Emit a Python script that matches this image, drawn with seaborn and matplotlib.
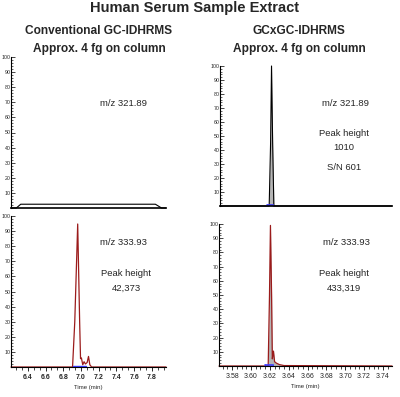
import numpy as np
import pandas as pd
import matplotlib
matplotlib.use("Agg")
import matplotlib.pyplot as plt
from matplotlib.ticker import MultipleLocator, AutoMinorLocator
import seaborn as sns

sns.set_style("white")
plt.rcParams['font.family'] = ['Liberation Sans', 'DejaVu Sans']

# ---------------- data ----------------
# Conventional GC, m/z 321.89 (flat trace)
conv_321_t = [6.21, 6.27, 6.32, 7.84, 7.91, 7.96]
conv_321_y = [0.0, 0.0, 2.5, 2.5, 0.0, 0.0]
# Conventional GC, m/z 333.93
conv_333_t = [6.21, 6.905, 6.93, 6.963, 6.985, 6.995, 7.005, 7.02, 7.035, 7.05, 7.07, 7.085, 7.10, 7.12, 7.96]
conv_333_y = [0.0, 0.0, 30.0, 94.7, 30.0, 5.5, 6.0, 1.5, 3.5, 2.0, 3.0, 7.0, 1.5, 0.0, 0.0]
conv_333_base = [6.905, 7.06]
# GCxGC, m/z 321.89
gcxgc_321_t = [3.566, 3.6185, 3.6200, 3.6210, 3.6222, 3.6235, 3.7496]
gcxgc_321_y = [0.0, 0.0, 45.0, 100.0, 45.0, 0.0, 0.0]
gcxgc_321_base = [3.6165, 3.6230]
# GCxGC, m/z 333.93
gcxgc_333_t = [3.566, 3.6182, 3.6196, 3.6206, 3.6218, 3.6226, 3.6238, 3.6250, 3.6270, 3.6300, 3.6350, 3.7496]
gcxgc_333_y = [0.0, 0.0, 50.0, 99.0, 50.0, 5.0, 10.5, 3.0, 2.0, 1.0, 0.3, 0.0]
gcxgc_333_base = [3.6150, 3.6230]

yticks = [10, 20, 30, 40, 50, 60, 70, 80, 90, 100]
conv_xticks = [6.4, 6.6, 6.8, 7.0, 7.2, 7.4, 7.6, 7.8]
gcxgc_xticks = [3.58, 3.60, 3.62, 3.64, 3.66, 3.68, 3.70, 3.72, 3.74]

W, H = 400, 397
fig = plt.figure(figsize=(W / 100, H / 100), dpi=100)

def rect(l, t, r, b):
    return [l / W, 1 - b / H, (r - l) / W, (b - t) / H]

ax_tl = fig.add_axes(rect(11, 57, 166, 208))
ax_bl = fig.add_axes(rect(11, 216, 166, 367))
ax_tr = fig.add_axes(rect(220, 66, 392, 206))
ax_br = fig.add_axes(rect(219, 224, 392, 366))

RED = "#9b1b1b"
BLUE = "#3a3aff"
GRAY = "#b5b5b5"

def style(ax, xlim, show_x, xticks=None, xminor=3):
    ax.set_xlim(*xlim)
    ax.set_ylim(0, 100)
    for s in ["top", "right"]:
        ax.spines[s].set_visible(False)
    ax.spines["left"].set_linewidth(0.8)
    ax.spines["bottom"].set_linewidth(1.2 if not show_x else 0.8)
    ax.spines["left"].set_color("black")
    ax.spines["bottom"].set_color("black")
    ax.set_yticks(yticks)
    ax.set_yticklabels([str(v) for v in yticks])
    ax.yaxis.set_minor_locator(MultipleLocator(2))
    ax.tick_params(axis="y", which="major", direction="in", length=3, width=0.6,
                   labelsize=3.8, pad=0.3, left=True)
    ax.tick_params(axis="y", which="minor", direction="in", length=1.5, width=0.5, left=True)
    if show_x:
        ax.set_xticks(xticks)
        ax.xaxis.set_minor_locator(AutoMinorLocator(xminor))
        ax.tick_params(axis="x", which="major", direction="out", length=3, width=0.7,
                       labelsize=5, pad=2, bottom=True)
        ax.tick_params(axis="x", which="minor", direction="out", length=2, width=0.6, bottom=True)
        for lab in ax.get_xticklabels():
            lab.set_fontweight("bold")
        ax.set_xlabel("Time (min)", fontsize=4.3, labelpad=3)
    else:
        ax.set_xticks([])
        ax.set_xlabel("")
    ax.set_ylabel("")
    ax.grid(False)

# Top-left
df = pd.DataFrame({"t": conv_321_t, "y": conv_321_y})
sns.lineplot(data=df, x="t", y="y", ax=ax_tl, color="black", lw=0.8, legend=False)
style(ax_tl, (6.21, 7.96), False)

# Bottom-left
df = pd.DataFrame({"t": conv_333_t, "y": conv_333_y})
sns.lineplot(data=df, x="t", y="y", ax=ax_bl, color=RED, lw=0.9, legend=False)
ax_bl.plot(conv_333_base, [0.4, 0.4], color=BLUE, lw=1.0)
style(ax_bl, (6.21, 7.96), True, conv_xticks, 3)

# Top-right
df = pd.DataFrame({"t": gcxgc_321_t, "y": gcxgc_321_y})
ax_tr.fill_between(gcxgc_321_t, gcxgc_321_y, color=GRAY, lw=0)
sns.lineplot(data=df, x="t", y="y", ax=ax_tr, color="black", lw=0.8, legend=False)
ax_tr.plot(gcxgc_321_base, [0.6, 0.6], color=BLUE, lw=1.2, marker="|", ms=2, mew=0.6)
style(ax_tr, (3.566, 3.7496), False)

# Bottom-right
df = pd.DataFrame({"t": gcxgc_333_t, "y": gcxgc_333_y})
ax_br.fill_between(gcxgc_333_t, gcxgc_333_y, color=GRAY, lw=0)
sns.lineplot(data=df, x="t", y="y", ax=ax_br, color=RED, lw=0.9, legend=False)
ax_br.plot(gcxgc_333_base, [0.6, 0.6], color=BLUE, lw=1.2, marker="|", ms=2, mew=0.6)
style(ax_br, (3.566, 3.7496), True, gcxgc_xticks, 4)
for lab in ax_br.get_xticklabels():
    lab.set_fontweight("normal")
    lab.set_fontsize(5)

for ax in (ax_tl, ax_bl, ax_tr, ax_br):
    for line in ax.lines:
        line.set_clip_on(False)

def ftext(x, y, s, va="center", **kw):
    fig.text(x / W, 1 - y / H, s, ha="center", va=va, **kw)

ftext(194, 1, "Human Serum Sample Extract", fontsize=10.5, fontweight="bold", va="top")
ftext(99, 31, "Conventional GC-IDHRMS", fontsize=8.6, fontweight="bold")
ftext(99, 49, "Approx. 4 fg on column", fontsize=8.6, fontweight="bold")
ftext(299, 31, "GCxGC-IDHRMS", fontsize=8.6, fontweight="bold")
ftext(299, 49, "Approx. 4 fg on column", fontsize=8.6, fontweight="bold")

ann = dict(fontsize=6.8)
ftext(123, 104, "m/z 321.89", **ann)
ftext(346, 104, "m/z 321.89", **ann)
ftext(344, 134, "Peak height", **ann)
ftext(344, 147, "1010", **ann)
ftext(344, 168, "S/N 601", **ann)
ftext(123, 243, "m/z 333.93", **ann)
ftext(126, 273, "Peak height", **ann)
ftext(126, 288, "42,373", **ann)
ftext(346, 243, "m/z 333.93", **ann)
ftext(344, 273, "Peak height", **ann)
ftext(344, 288, "433,319", **ann)

fig.savefig("out.png", dpi=100)
